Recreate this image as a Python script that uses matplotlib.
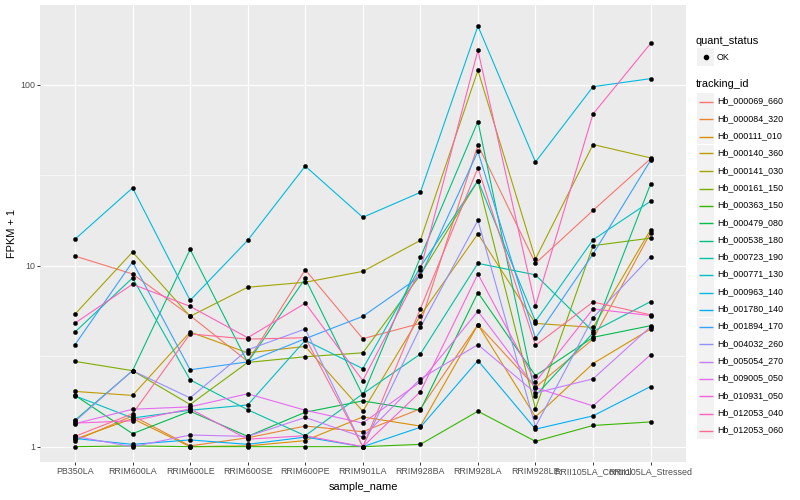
import matplotlib
matplotlib.use("Agg")
import matplotlib.pyplot as plt
from matplotlib.patches import Rectangle
from matplotlib.lines import Line2D
from matplotlib.ticker import NullFormatter, FixedLocator

plt.rcParams['font.family'] = ['Liberation Sans', 'DejaVu Sans']

samples = ["PB350LA", "RRIM600LA", "RRIM600LE", "RRIM600SE", "RRIM600PE",
           "RRIM901LA", "RRIM928BA", "RRIM928LA", "RRIM928LE",
           "RRII105LA_Control", "RRII105LA_Stressed"]

tracking_ids = ["Hb_000069_660", "Hb_000084_320", "Hb_000111_010", "Hb_000140_360",
                "Hb_000141_030", "Hb_000161_150", "Hb_000363_150", "Hb_000479_080",
                "Hb_000538_180", "Hb_000723_190", "Hb_000771_130", "Hb_000963_140",
                "Hb_001780_140", "Hb_001894_170", "Hb_004032_260", "Hb_005054_270",
                "Hb_009005_050", "Hb_010931_050", "Hb_012053_040", "Hb_012053_060"]

colors = ["#F8766D", "#EA8331", "#D89000", "#C09B00", "#A3A500", "#7CAE00",
          "#39B600", "#00BB4E", "#00BF7D", "#00C1A3", "#00BFC4", "#00BAE0",
          "#00B0F6", "#35A2FF", "#9590FF", "#C77CFF", "#E76BF3", "#FA62DB",
          "#FF62BC", "#FF6C91"]

# FPKM + 1 per sample (same order as samples)
hb_000069_660 = [11.3, 9.0, 5.3, 2.96, 9.5, 3.95, 4.8, 46.5, 10.3, 20.2, 39.0]
hb_000084_320 = [1.08, 1.48, 1.01, 1.12, 1.3, 1.21, 1.62, 4.72, 2.13, 3.93, 15.2]
hb_000111_010 = [1.1, 1.43, 1.0, 1.01, 1.08, 1.46, 1.3, 4.72, 1.46, 2.88, 4.47]
hb_000140_360 = [2.02, 1.92, 4.3, 3.3, 3.58, 1.57, 5.3, 15.0, 4.8, 4.56, 15.8]
hb_000141_030 = [5.4, 11.9, 5.25, 7.6, 8.1, 9.3, 13.8, 120, 10.9, 46.7, 39.4]
hb_000161_150 = [2.96, 2.63, 1.71, 2.92, 3.14, 3.3, 8.9, 29.5, 1.62, 12.9, 14.2]
hb_000363_150 = [1.0, 1.01, 1.0, 1.0, 1.0, 1.0, 1.03, 1.57, 1.07, 1.31, 1.37]
hb_000479_080 = [1.92, 1.18, 1.57, 1.14, 1.55, 1.79, 1.59, 7.1, 2.47, 4.02, 4.66]
hb_000538_180 = [1.40, 2.63, 12.3, 2.92, 8.5, 1.92, 11.1, 62.6, 1.91, 4.25, 28.3]
hb_000723_190 = [4.3, 8.56, 2.34, 1.6, 1.15, 1.96, 3.25, 10.3, 8.9, 4.33, 6.33]
hb_000771_130 = [1.91, 1.44, 1.59, 1.7, 3.87, 2.7, 9.85, 29.5, 4.93, 13.9, 22.7]
hb_000963_140 = [14.0, 26.9, 6.43, 13.8, 35.5, 18.5, 25.4, 211, 37.4, 97.5, 108]
hb_001780_140 = [1.11, 1.03, 1.09, 1.03, 1.13, 1.0, 1.28, 2.99, 1.25, 1.48, 2.15]
hb_001894_170 = [3.66, 10.5, 2.66, 2.94, 3.95, 5.25, 8.75, 42.8, 3.97, 11.6, 38.2]
hb_004032_260 = [1.38, 2.63, 1.86, 3.43, 4.47, 1.0, 4.56, 17.8, 1.29, 5.16, 11.2]
hb_005054_270 = [1.14, 1.0, 1.16, 1.14, 1.45, 1.13, 2.37, 3.66, 1.98, 2.37, 4.6]
hb_009005_050 = [1.34, 1.61, 1.66, 1.96, 1.59, 1.35, 2.28, 5.6, 2.12, 1.68, 3.22]
hb_010931_050 = [1.35, 1.39, 1.62, 1.1, 1.15, 1.0, 2.01, 9.0, 2.28, 5.77, 5.3]
hb_012053_040 = [4.82, 7.9, 5.96, 4.0, 6.2, 2.32, 9.5, 155, 6.0, 68.9, 169]
hb_012053_060 = [1.14, 1.52, 4.2, 3.93, 4.0, 1.0, 5.77, 34.7, 3.63, 6.3, 5.35]

series = [hb_000069_660, hb_000084_320, hb_000111_010, hb_000140_360, hb_000141_030,
          hb_000161_150, hb_000363_150, hb_000479_080, hb_000538_180, hb_000723_190,
          hb_000771_130, hb_000963_140, hb_001780_140, hb_001894_170, hb_004032_260,
          hb_005054_270, hb_009005_050, hb_010931_050, hb_012053_040, hb_012053_060]

W, H = 800, 500
fig = plt.figure(figsize=(8, 5), dpi=100)
fig.patch.set_facecolor("white")

# panel in pixels: x 40..686, y 5..462
pl, pr, pt, pb = 40, 686, 5, 462
ax = fig.add_axes([pl / W, 1 - pb / H, (pr - pl) / W, (pb - pt) / H])
ax.set_facecolor("#EBEBEB")
for s in ax.spines.values():
    s.set_visible(False)

xs = list(range(len(samples)))
for vals, col in zip(series, colors):
    ax.plot(xs, vals, color=col, lw=0.8, zorder=3, solid_capstyle='butt')
for vals in series:
    ax.plot(xs, vals, linestyle='none', marker='o', markersize=3.0,
            markerfacecolor='black', markeredgecolor='black', markeredgewidth=0.3, zorder=4)

ax.set_yscale('log')
ax.set_ylim(0.823, 275.6)
ax.set_xlim(-0.608, 10.615)
ax.set_xticks(xs)
ax.set_xticklabels(samples)
ax.yaxis.set_major_locator(FixedLocator([1, 10, 100]))
ax.set_yticklabels(["1", "10", "100"])
ax.yaxis.set_minor_locator(FixedLocator([10 ** 0.5, 10 ** 1.5]))
ax.yaxis.set_minor_formatter(NullFormatter())
ax.grid(True, which='major', color='white', lw=0.85, zorder=0)
ax.grid(True, which='minor', axis='y', color='white', lw=0.4, zorder=0)
ax.set_axisbelow(True)
ax.tick_params(axis='both', which='major', length=2.0, width=0.7, color='#333333',
               labelcolor='#4D4D4D', labelsize=6.4, pad=1.5)
ax.tick_params(axis='y', which='minor', length=0)

def fx(x):
    return x / W

def fy(y):
    return 1 - y / H

fig.text(fx(12), fy(233), "FPKM + 1", rotation=90, ha='center', va='center', fontsize=7.9, color='black')
fig.text(fx(363), fy(487), "sample_name", ha='center', va='center', fontsize=7.9, color='black')

# legends (drawn in pixel layout)
fig.text(fx(696), fy(40.7), "quant_status", ha='left', va='center', fontsize=7.9, color='black')
fig.patches.append(Rectangle((fx(697), fy(65.5)), 17 / W, 17 / H, transform=fig.transFigure,
                             facecolor='#F2F2F2', edgecolor='none', zorder=1))
fig.lines.append(Line2D([fx(705.5)], [fy(57)], transform=fig.transFigure, marker='o',
                        markersize=3.0, color='black', linestyle='none', zorder=3))
fig.text(fx(717), fy(57.3), "OK", ha='left', va='center', fontsize=6.4, color='black')

fig.text(fx(696), fy(84), "tracking_id", ha='left', va='center', fontsize=7.9, color='black')
for i, (name, col) in enumerate(zip(tracking_ids, colors)):
    cy = 101.2 + i * 17.3
    fig.patches.append(Rectangle((fx(697), fy(cy + 8.6)), 17 / W, 17.2 / H, transform=fig.transFigure,
                                 facecolor='#F2F2F2', edgecolor='none', zorder=1))
    ly = round(cy) + 0.5
    fig.lines.append(Line2D([fx(698.5), fx(712.5)], [fy(ly), fy(ly)], transform=fig.transFigure,
                            color=col, lw=1.0, zorder=3, solid_capstyle='butt'))
    fig.text(fx(717), fy(cy), name, ha='left', va='center', fontsize=6.4, color='black')

fig.savefig("out.png", dpi=100, facecolor="white")
